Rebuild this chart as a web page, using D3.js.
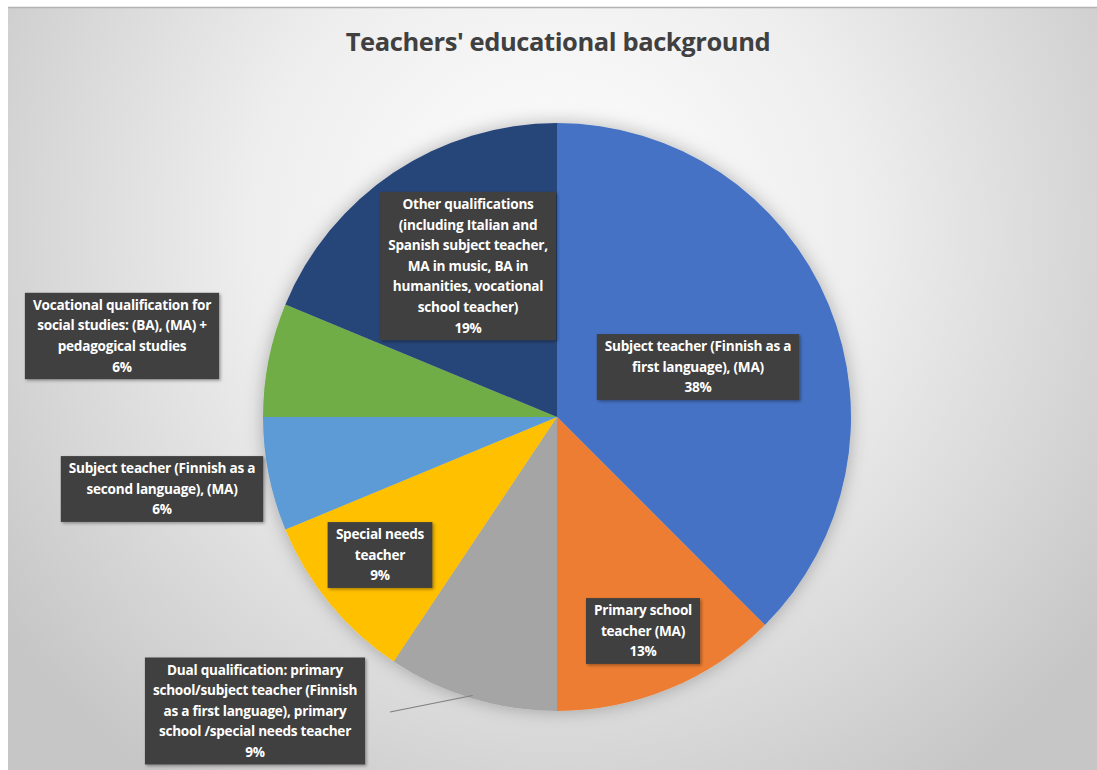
<!DOCTYPE html>
<html>
<head>
<meta charset="utf-8">
<script src="https://cdn.jsdelivr.net/npm/d3@7"></script>
<style>
  html, body { margin: 0; padding: 0; background: #fff; }
  svg { display: block; }
</style>
</head>
<body>
<div id="container"></div>
<script>
// Data: number of teachers per background (shares shown as %)
const categories = [
  "Subject teacher (Finnish as a first language), (MA)",
  "Primary school teacher (MA)",
  "Dual qualification",
  "Special needs teacher",
  "Subject teacher (Finnish as a second language), (MA)",
  "Vocational qualification for social studies",
  "Other qualifications"
];
const counts = [12, 4, 3, 3, 2, 2, 6];
const labelLines = [
  ["Subject teacher (Finnish as a", "first language), (MA)"],
  ["Primary school", "teacher (MA)"],
  ["Dual qualification: primary", "school/subject teacher (Finnish", "as a first language), primary", "school /special needs teacher"],
  ["Special needs", "teacher"],
  ["Subject teacher (Finnish as a", "second language), (MA)"],
  ["Vocational qualification for", "social studies: (BA), (MA) +", "pedagogical studies"],
  ["Other qualifications", "(including Italian and", "Spanish subject teacher,", "MA in music, BA in", "humanities, vocational", "school teacher)"]
];
const colors = ["#4472C4", "#ED7D31", "#A5A5A5", "#FFC000", "#5B9BD5", "#70AD47", "#264478"];

// Layout
const W = 1097, H = 770;
const cx = 557, cy = 417, radius = 294;
const labelCenters = [[698, 367], [643, 631], [255, 711], [380, 555], [162, 489], [122, 336], [468, 266]];
const lineH = 20.6;

const svg = d3.select("#container")
  .append("svg")
  .attr("width", W)
  .attr("height", H);

const defs = svg.append("defs");

const grad = defs.append("radialGradient")
  .attr("id", "bg")
  .attr("gradientUnits", "userSpaceOnUse")
  .attr("cx", 557).attr("cy", 230).attr("r", 680);
grad.append("stop").attr("offset", "0%").attr("stop-color", "#ffffff");
grad.append("stop").attr("offset", "45%").attr("stop-color", "#eeeeee");
grad.append("stop").attr("offset", "100%").attr("stop-color", "#c6c6c6");

const pieShadow = defs.append("filter").attr("id", "pieShadow")
  .attr("x", "-20%").attr("y", "-20%").attr("width", "140%").attr("height", "140%");
pieShadow.append("feDropShadow")
  .attr("dx", 0).attr("dy", 0).attr("stdDeviation", 9)
  .attr("flood-color", "#000").attr("flood-opacity", 0.28);

const boxShadow = defs.append("filter").attr("id", "boxShadow")
  .attr("x", "-20%").attr("y", "-20%").attr("width", "140%").attr("height", "140%");
boxShadow.append("feDropShadow")
  .attr("dx", 1.5).attr("dy", 1.5).attr("stdDeviation", 1.5)
  .attr("flood-color", "#000").attr("flood-opacity", 0.35);

// Background and frame
svg.append("rect")
  .attr("x", 8).attr("y", 7)
  .attr("width", W - 8).attr("height", H - 7)
  .attr("fill", "url(#bg)");
svg.append("line")
  .attr("x1", 8).attr("x2", W).attr("y1", 7.5).attr("y2", 7.5)
  .attr("stroke", "#b4b4b4").attr("stroke-width", 1.5);

// Title
svg.append("text")
  .attr("x", 558)
  .attr("y", 51)
  .attr("text-anchor", "middle")
  .style("font-family", "'Open Sans', sans-serif")
  .style("font-weight", "700")
  .style("font-size", "25.5px")
  .style("letter-spacing", "-0.4px")
  .attr("fill", "#404040")
  .text("Teachers' educational background");

// Pie
const data = categories.map((c, i) => ({ name: c, value: counts[i], color: colors[i], lines: labelLines[i] }));
const total = d3.sum(counts);

const pie = d3.pie()
  .value(d => d.value)
  .sort(null);

const arc = d3.arc()
  .innerRadius(0)
  .outerRadius(radius);

const chart = svg.append("g")
  .attr("transform", `translate(${cx},${cy})`);

chart.append("g")
  .attr("filter", "url(#pieShadow)")
  .selectAll("path")
  .data(pie(data))
  .enter()
  .append("path")
  .attr("d", arc)
  .attr("fill", d => d.data.color);

// Leader line for the dual qualification label (from the slice edge at its mid angle)
const dualArc = pie(data)[2];
const mid = (dualArc.startAngle + dualArc.endAngle) / 2;
const edge = d3.arc().innerRadius(radius - 3).outerRadius(radius - 3)
  .centroid({ startAngle: mid, endAngle: mid });
svg.append("line")
  .attr("x1", cx + edge[0]).attr("y1", cy + edge[1])
  .attr("x2", 390).attr("y2", 712)
  .attr("stroke", "#7f7f7f")
  .attr("stroke-width", 1.2);

// Data labels
const fmt = d3.format(".0%");
data.forEach((d, i) => {
  const lines = d.lines.concat([fmt(d.value / total)]);
  const [lx, ly] = labelCenters[i];
  const g = svg.append("g").attr("transform", `translate(${lx},${ly})`);
  const box = g.append("rect").attr("fill", "#404040").attr("filter", "url(#boxShadow)");
  const txt = g.append("text")
    .attr("text-anchor", "middle")
    .style("font-family", "'Open Sans', sans-serif")
    .style("font-weight", "700")
    .style("font-size", "13.6px")
    .style("letter-spacing", "-0.25px")
    .attr("fill", "#ffffff");
  const y0 = -(lines.length - 1) * lineH / 2;
  lines.forEach((t, k) => {
    txt.append("tspan")
      .attr("x", 0)
      .attr("y", y0 + k * lineH)
      .attr("dy", "0.35em")
      .text(t);
  });
  const bw = txt.node().getBBox().width + 16;
  const bh = lines.length * lineH + 4;
  box.attr("x", -bw / 2).attr("y", -bh / 2).attr("width", bw).attr("height", bh);
});
</script>
</body>
</html>
